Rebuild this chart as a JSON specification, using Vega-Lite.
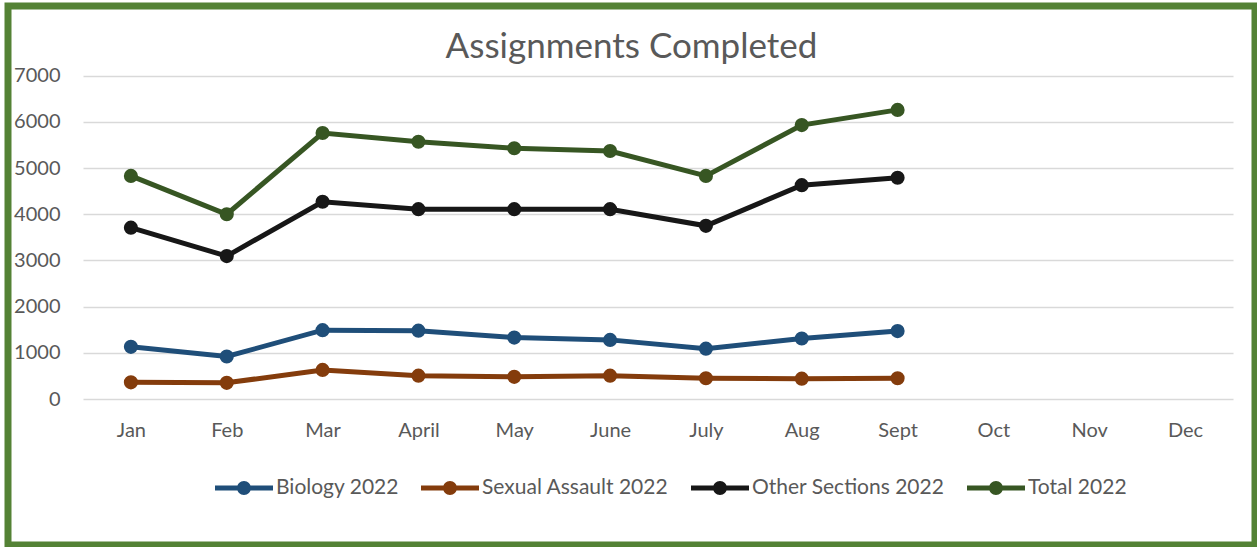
{
  "$schema": "https://vega.github.io/schema/vega-lite/v6.json",
  "width": 1247,
  "height": 539,
  "autosize": {"type": "none"},
  "padding": {"left": 8, "top": 6, "right": 2, "bottom": 2},
  "background": "white",
  "config": {
    "view": {"stroke": "#548235", "strokeWidth": 7, "fill": "white"},
    "font": "Lato"
  },
  "title": {
    "text": "Assignments Completed",
    "fontSize": 35,
    "font": "Lato",
    "fontWeight": "normal",
    "color": "#595959",
    "anchor": "middle",
    "frame": "group",
    "baseline": "alphabetic",
    "offset": -51,
    "dy": 36
  },
  "data": {
    "values": [
      {"month": "Jan", "series": "Biology 2022", "value": 1130},
      {"month": "Feb", "series": "Biology 2022", "value": 920},
      {"month": "Mar", "series": "Biology 2022", "value": 1490},
      {"month": "April", "series": "Biology 2022", "value": 1480},
      {"month": "May", "series": "Biology 2022", "value": 1330},
      {"month": "June", "series": "Biology 2022", "value": 1280},
      {"month": "July", "series": "Biology 2022", "value": 1090},
      {"month": "Aug", "series": "Biology 2022", "value": 1310},
      {"month": "Sept", "series": "Biology 2022", "value": 1470},
      {"month": "Jan", "series": "Sexual Assault 2022", "value": 360},
      {"month": "Feb", "series": "Sexual Assault 2022", "value": 350},
      {"month": "Mar", "series": "Sexual Assault 2022", "value": 630},
      {"month": "April", "series": "Sexual Assault 2022", "value": 505},
      {"month": "May", "series": "Sexual Assault 2022", "value": 480},
      {"month": "June", "series": "Sexual Assault 2022", "value": 505},
      {"month": "July", "series": "Sexual Assault 2022", "value": 450},
      {"month": "Aug", "series": "Sexual Assault 2022", "value": 440},
      {"month": "Sept", "series": "Sexual Assault 2022", "value": 450},
      {"month": "Jan", "series": "Other Sections 2022", "value": 3710},
      {"month": "Feb", "series": "Other Sections 2022", "value": 3095},
      {"month": "Mar", "series": "Other Sections 2022", "value": 4270},
      {"month": "April", "series": "Other Sections 2022", "value": 4110},
      {"month": "May", "series": "Other Sections 2022", "value": 4110},
      {"month": "June", "series": "Other Sections 2022", "value": 4110},
      {"month": "July", "series": "Other Sections 2022", "value": 3750},
      {"month": "Aug", "series": "Other Sections 2022", "value": 4630},
      {"month": "Sept", "series": "Other Sections 2022", "value": 4790},
      {"month": "Jan", "series": "Total 2022", "value": 4830},
      {"month": "Feb", "series": "Total 2022", "value": 4000},
      {"month": "Mar", "series": "Total 2022", "value": 5760},
      {"month": "April", "series": "Total 2022", "value": 5570},
      {"month": "May", "series": "Total 2022", "value": 5430},
      {"month": "June", "series": "Total 2022", "value": 5370},
      {"month": "July", "series": "Total 2022", "value": 4830},
      {"month": "Aug", "series": "Total 2022", "value": 5930},
      {"month": "Sept", "series": "Total 2022", "value": 6260}
    ]
  },
  "encoding": {
    "x": {
      "field": "month",
      "type": "nominal",
      "sort": null,
      "scale": {
        "type": "point",
        "domain": ["Jan", "Feb", "Mar", "April", "May", "June", "July", "Aug", "Sept", "Oct", "Nov", "Dec"],
        "range": [75, 1225],
        "padding": 0.5
      },
      "axis": {
        "title": null,
        "domain": false,
        "ticks": false,
        "tickSize": 0,
        "grid": false,
        "labelAngle": 0,
        "labelFontSize": 20,
        "labelFont": "Lato",
        "labelColor": "#595959",
        "labelBaseline": "alphabetic",
        "labelPadding": 37,
        "offset": -146
      }
    },
    "y": {
      "field": "value",
      "type": "quantitative",
      "scale": {"domain": [0, 7000], "range": [393, 69.7], "nice": false},
      "axis": {
        "title": null,
        "domain": false,
        "ticks": false,
        "tickSize": 0,
        "format": "d",
        "values": [0, 1000, 2000, 3000, 4000, 5000, 6000, 7000],
        "labelFontSize": 20,
        "labelFont": "Lato",
        "labelColor": "#595959",
        "labelPadding": 23,
        "offset": -75,
        "grid": true,
        "gridColor": "#D9D9D9",
        "gridWidth": 1.5
      }
    },
    "color": {
      "field": "series",
      "type": "nominal",
      "scale": {
        "domain": ["Biology 2022", "Sexual Assault 2022", "Other Sections 2022", "Total 2022"],
        "range": ["#1F4E79", "#843C0C", "#171717", "#375623"]
      },
      "legend": {
        "title": null,
        "orient": "none",
        "legendX": 207,
        "legendY": 453,
        "direction": "horizontal",
        "columns": 4,
        "symbolType": "M-1,-0.086H1V0.086H-1Z M0.24,0A0.24,0.24,0,1,1,-0.24,0A0.24,0.24,0,1,1,0.24,0Z",
        "symbolSize": 3364,
        "symbolStrokeWidth": 0,
        "labelFontSize": 21,
        "labelFont": "Lato",
        "labelColor": "#595959",
        "labelLimit": 500,
        "labelOffset": 3,
        "columnPadding": 22,
        "padding": 0,
        "encode": {
          "symbols": {
            "update": {
              "fill": {"scale": "color", "field": "value"},
              "stroke": {"value": "transparent"},
              "opacity": {"value": 1}
            }
          }
        }
      }
    }
  },
  "layer": [
    {"mark": {"type": "line", "strokeWidth": 5}},
    {"mark": {"type": "point", "filled": true, "size": 200, "opacity": 1}}
  ]
}
